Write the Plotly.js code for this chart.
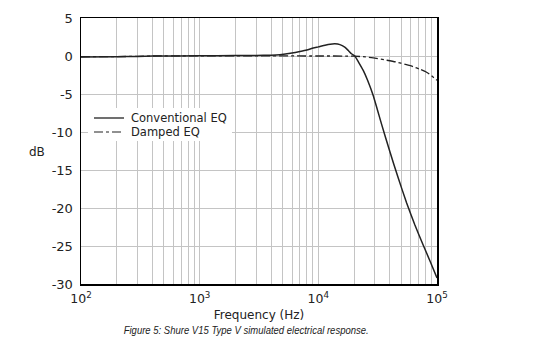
<!DOCTYPE html>
<html><head><meta charset="utf-8">
<script src="https://cdn.plot.ly/plotly-3.0.1.min.js"></script>
<style>body{margin:0;background:#fff}#c{width:552px;height:352px}</style>
</head><body><div id="c"></div>
<script>
// Frequencies (Hz) and responses (dB)
const convFreq = [100, 200, 300, 400, 1000, 2000, 3000, 4000, 4740, 6000, 7000, 8000, 9060, 10000, 11400, 12600, 13800, 15200, 16700, 17900, 19000, 20300, 21800, 23900, 26000, 29000, 34000, 40100, 47000, 55400, 65000, 76600, 88000, 100000];
const convDb   = [-0.12, -0.1, -0.05, 0, 0.02, 0.05, 0.08, 0.11, 0.18, 0.4, 0.6, 0.8, 1.05, 1.2, 1.42, 1.55, 1.6, 1.5, 1.16, 0.72, 0.3, 0.0, -0.8, -1.9, -3.2, -5.2, -8.9, -12.6, -16.0, -19.3, -22.2, -24.9, -27.1, -29.2];
const dampFreq = [100, 300, 400, 10000, 20000, 25000, 29000, 36000, 45700, 54000, 62900, 72000, 81100, 90000, 100000];
const dampDb   = [-0.1, -0.05, 0, 0, -0.02, -0.12, -0.24, -0.5, -0.8, -1.1, -1.4, -1.75, -2.1, -2.6, -3.2];
const yTicks = [5, 0, -5, -10, -15, -20, -25, -30];
const yTickText = ['5', '0', '-5', '-10', '-15', '-20', '-25', '-30'];
const seriesNames = ['Conventional EQ', 'Damped EQ'];
const caption = 'Figure 5: Shure V15 Type V simulated electrical response.';

const font = 'DejaVu Sans, Verdana, sans-serif';
const ink = '#222';

// Plot area in pixels: x 81..437, y 18..284
const W = 552, H = 352, L = 81, R = 437, T = 18, B = 284;
const px = v => (v - L) / (R - L);
const py = v => (B - v) / (B - T);

const traces = [
  {x: convFreq, y: convDb, name: seriesNames[0], mode: 'lines', line: {color: ink, width: 1.5, shape: 'spline', smoothing: 0.5}},
  {x: dampFreq, y: dampDb, name: seriesNames[1], mode: 'lines', line: {color: ink, width: 1.3, dash: 'dashdot', shape: 'spline', smoothing: 0.6}}
];
const layout = {
  width: W, height: H,
  margin: {l: L, r: W - R, t: T, b: H - B},
  paper_bgcolor: '#fff', plot_bgcolor: '#fff',
  font: {family: font, size: 12, color: ink},
  showlegend: false,
  xaxis: {type: 'log', range: [2, 5], dtick: 1, exponentformat: 'power',
          showgrid: true, gridcolor: '#c4c4c4', gridwidth: 1,
          minor: {showgrid: true, gridcolor: '#c4c4c4', gridwidth: 1, dtick: 'D1', ticks: ''},
          showline: true, linecolor: '#000', linewidth: 1.5, mirror: true,
          ticks: '', zeroline: false, ticklabelstandoff: 3,
          tickfont: {family: font, size: 10, color: ink},
          title: {text: 'Frequency (Hz)', font: {family: font, size: 12, color: ink}, standoff: 5}},
  yaxis: {range: [-30, 5], tickvals: yTicks, ticktext: yTickText,
          showgrid: true, gridcolor: '#c4c4c4', gridwidth: 1,
          showline: true, linecolor: '#000', linewidth: 1.5, mirror: true,
          ticks: '', zeroline: false, ticklabelstandoff: 4,
          tickfont: {family: font, size: 13, color: ink}},
  shapes: [
    {type: 'rect', xref: 'paper', yref: 'paper', x0: px(88), x1: px(232), y0: py(141), y1: py(108),
     fillcolor: '#fff', line: {width: 0}, layer: 'above'},
    {type: 'line', xref: 'paper', yref: 'paper', x0: px(94), x1: px(124), y0: py(118), y1: py(118),
     line: {color: ink, width: 1.3}, layer: 'above'},
    {type: 'line', xref: 'paper', yref: 'paper', x0: px(94), x1: px(124), y0: py(132), y1: py(132),
     line: {color: ink, width: 1.2, dash: 'dashdot'}, layer: 'above'}
  ],
  annotations: [
    {text: seriesNames[0], xref: 'paper', yref: 'paper', x: px(129), y: py(118), xanchor: 'left', yanchor: 'middle', showarrow: false,
     font: {family: font, size: 11.5, color: ink}},
    {text: seriesNames[1], xref: 'paper', yref: 'paper', x: px(129), y: py(132), xanchor: 'left', yanchor: 'middle', showarrow: false,
     font: {family: font, size: 11.5, color: ink}},
    {text: 'dB', xref: 'paper', yref: 'paper', x: px(36.5), y: py(152), xanchor: 'center', yanchor: 'middle', showarrow: false,
     font: {family: font, size: 12, color: ink}},
    {text: caption, xref: 'paper', yref: 'paper', x: px(245.5), y: py(330),
     xanchor: 'center', yanchor: 'middle', showarrow: false,
     font: {family: 'Liberation Sans, Arial, sans-serif', size: 11.5, style: 'italic', color: '#222'}}
  ]
};
Plotly.newPlot('c', traces, layout, {displayModeBar: false, staticPlot: true}).then(gd => {
  // squeeze the caption to the condensed width of the reference
  gd.querySelectorAll('.annotation-text').forEach(t => {
    if (t.textContent === caption) {
      t.setAttribute('textLength', '245');
      t.setAttribute('lengthAdjust', 'spacingAndGlyphs');
    }
  });
});
</script></body></html>
